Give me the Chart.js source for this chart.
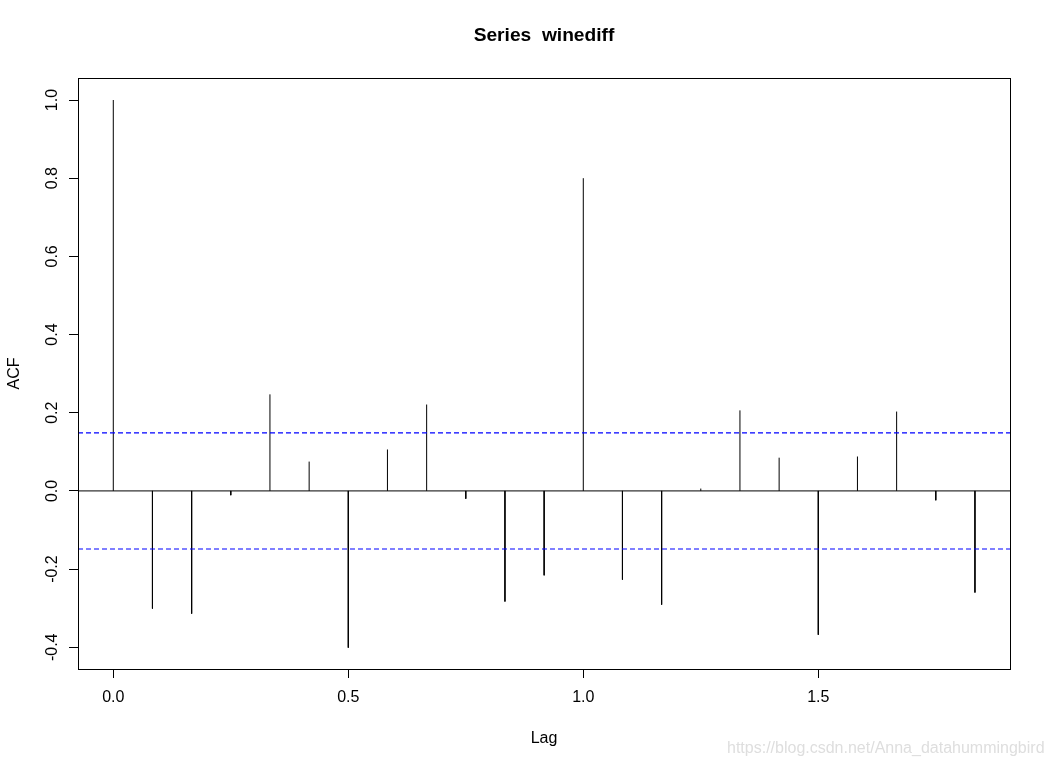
<!DOCTYPE html>
<html lang="en">
<head>
  <meta charset="UTF-8" />
  <title>Series winediff</title>
  <script src="https://cdn.jsdelivr.net/npm/chart.js"></script>
  <style>
    body {
      margin: 0;
      background: #fff;
    }
    #chart-container {
      position: relative;
      width: 1051px;
      height: 767px;
    }
    #mark {
      position: absolute;
      left: 727px;
      top: 739px;
      font: 16px "Liberation Sans", Arial, sans-serif;
      line-height: 18px;
      color: #dedede;
      white-space: nowrap;
    }
  </style>
</head>
<body>
  <div id="chart-container">
    <canvas id="acfChart"></canvas>
    <div id="mark">https://blog.csdn.net/Anna_datahummingbird</div>
  </div>

  <script>
    // лаги (в годах) и значения ACF
    const lags = [0, 0.0833, 0.1667, 0.25, 0.3333, 0.4167, 0.5, 0.5833, 0.6667, 0.75, 0.8333, 0.9167,
                  1, 1.0833, 1.1667, 1.25, 1.3333, 1.4167, 1.5, 1.5833, 1.6667, 1.75, 1.8333];
    const acf = [1.0, -0.301, -0.314, -0.011, 0.247, 0.075, -0.401, 0.106, 0.221, -0.020, -0.283, -0.216,
                 0.800, -0.227, -0.291, 0.006, 0.206, 0.085, -0.368, 0.088, 0.203, -0.024, -0.260];
    const ciLimit = 0.1486;

    const xRange = [-0.0751, 1.9079];
    const yRange = [-0.4556, 1.0563];
    const xTicks = [0, 0.5, 1, 1.5];
    const yTicks = [-0.4, -0.2, 0, 0.2, 0.4, 0.6, 0.8, 1];

    const FONT = '"Liberation Sans", Arial, sans-serif';
    Chart.defaults.font.family = FONT;
    Chart.defaults.font.size = 16;
    Chart.defaults.color = "#000";

    // вертикальные палочки: 0 -> значение, разрыв через null
    const spikes = [];
    lags.forEach((lag, i) => {
      spikes.push({ x: lag, y: 0 });
      spikes.push({ x: lag, y: acf[i] });
      spikes.push({ x: lag, y: null });
    });

    const hline = (v) => [{ x: xRange[0], y: v }, { x: xRange[1], y: v }];

    // рамка вокруг области графика и заголовок как в R
    const framePlugin = {
      id: "frame",
      afterDraw(chart) {
        const { ctx, chartArea } = chart;
        ctx.save();
        ctx.strokeStyle = "#000";
        ctx.lineWidth = 1;
        ctx.strokeRect(Math.round(chartArea.left) + 0.5, Math.round(chartArea.top) + 0.5,
          Math.round(chartArea.right - chartArea.left), Math.round(chartArea.bottom - chartArea.top));
        ctx.font = "bold 19.2px " + FONT;
        ctx.fillStyle = "#000";
        ctx.textAlign = "center";
        ctx.textBaseline = "middle";
        ctx.fillText("Series  winediff", (chartArea.left + chartArea.right) / 2, 36);
        ctx.restore();
      }
    };

    const ctx = document.getElementById("acfChart").getContext("2d");
    new Chart(ctx, {
      type: "line",
      data: {
        datasets: [
          {
            label: "zero",
            data: hline(0),
            borderColor: "#000",
            borderWidth: 1,
            pointRadius: 0
          },
          {
            label: "upper",
            data: hline(ciLimit),
            borderColor: "#0000FF",
            borderWidth: 1.2,
            borderDash: [5, 3],
            pointRadius: 0
          },
          {
            label: "lower",
            data: hline(-ciLimit),
            borderColor: "#0000FF",
            borderWidth: 1.2,
            borderDash: [5, 3],
            pointRadius: 0
          },
          {
            label: "ACF",
            data: spikes,
            borderColor: "#000",
            borderWidth: 1,
            pointRadius: 0,
            spanGaps: false
          }
        ]
      },
      options: {
        responsive: true,
        maintainAspectRatio: false,
        animation: false,
        layout: { padding: { top: 78, right: 41, bottom: 0, left: 0 } },
        plugins: {
          legend: { display: false },
          tooltip: { enabled: false }
        },
        scales: {
          x: {
            type: "linear",
            min: xRange[0],
            max: xRange[1],
            afterBuildTicks: (scale) => { scale.ticks = xTicks.map(v => ({ value: v })); },
            afterFit: (scale) => { scale.height = 98; },
            grid: { drawOnChartArea: false, drawTicks: true, tickLength: 9, color: "#000" },
            border: { display: true, color: "#000" },
            ticks: {
              padding: 10,
              maxRotation: 0,
              callback: (v) => Number(v).toFixed(1)
            },
            title: { display: true, text: "Lag", padding: { top: 0, bottom: 19 } }
          },
          y: {
            min: yRange[0],
            max: yRange[1],
            afterBuildTicks: (scale) => { scale.ticks = yTicks.map(v => ({ value: v })); },
            afterFit: (scale) => { scale.width = 78; },
            grid: { drawOnChartArea: false, drawTicks: true, tickLength: 9, color: "#000" },
            border: { display: true, color: "#000" },
            ticks: {
              padding: 3,
              minRotation: 90,
              maxRotation: 90,
              crossAlign: "center",
              callback: (v) => Number(v).toFixed(1)
            },
            title: { display: true, text: "ACF", padding: { top: 5, bottom: 0 } }
          }
        }
      },
      plugins: [framePlugin]
    });
  </script>
</body>
</html>
